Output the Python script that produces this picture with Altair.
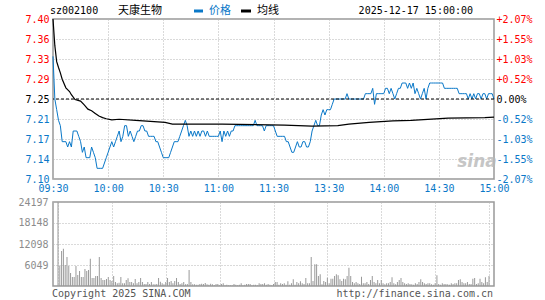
import json
import altair as alt
import pandas as pd

# ---------------- data ----------------
prev_close = 7.25
stock_code = "sz002100"
stock_name = "天康生物"
timestamp = "2025-12-17 15:00:00"

price = [
    7.33, 7.25, 7.23, 7.21, 7.20, 7.17, 7.17, 7.17, 7.16, 7.17,
    7.16, 7.19, 7.19, 7.19, 7.18, 7.17, 7.15, 7.16, 7.14, 7.14,
    7.14, 7.16, 7.15, 7.14, 7.12, 7.12, 7.12, 7.12, 7.13, 7.14,
    7.15, 7.16, 7.17, 7.16, 7.17, 7.18, 7.19, 7.17, 7.18, 7.20,
    7.20, 7.18, 7.19, 7.18, 7.17, 7.18, 7.19, 7.19, 7.20, 7.20,
    7.19, 7.19, 7.18, 7.18, 7.18, 7.18, 7.17, 7.17, 7.16, 7.15,
    7.14, 7.14, 7.14, 7.14, 7.15, 7.16, 7.17, 7.17, 7.17, 7.18,
    7.19, 7.20, 7.21, 7.20, 7.18, 7.19, 7.18, 7.19, 7.18, 7.19,
    7.18, 7.19, 7.19, 7.18, 7.19, 7.18, 7.18, 7.18, 7.18, 7.18,
    7.18, 7.19, 7.17, 7.19, 7.18, 7.19, 7.18, 7.19, 7.19, 7.20,
    7.20, 7.20, 7.20, 7.20, 7.20, 7.20, 7.20, 7.20, 7.20, 7.20,
    7.21, 7.20, 7.20, 7.20, 7.20, 7.19, 7.20, 7.20, 7.20, 7.20,
    7.20, 7.19, 7.18, 7.18, 7.18, 7.18, 7.18, 7.17, 7.17, 7.16,
    7.15, 7.15, 7.16, 7.17, 7.16, 7.16, 7.17, 7.17, 7.16, 7.16,
    7.17, 7.19, 7.20, 7.21, 7.20, 7.20, 7.22, 7.23, 7.22, 7.23,
    7.23, 7.23, 7.24, 7.25, 7.25, 7.25, 7.25, 7.25, 7.25, 7.25,
    7.26, 7.25, 7.25, 7.25, 7.25, 7.25, 7.25, 7.25, 7.25, 7.25,
    7.26, 7.26, 7.26, 7.26, 7.27, 7.24, 7.26, 7.26, 7.26, 7.26,
    7.26, 7.27, 7.27, 7.26, 7.27, 7.26, 7.25, 7.26, 7.27, 7.27,
    7.28, 7.28, 7.28, 7.27, 7.28, 7.27, 7.28, 7.26, 7.27, 7.26,
    7.25, 7.26, 7.27, 7.25, 7.27, 7.28, 7.28, 7.28, 7.28, 7.28,
    7.28, 7.28, 7.28, 7.27, 7.27, 7.27, 7.27, 7.27, 7.27, 7.27,
    7.27, 7.26, 7.26, 7.26, 7.26, 7.26, 7.25, 7.26, 7.25, 7.26,
    7.25, 7.26, 7.26, 7.25, 7.26, 7.26, 7.25, 7.26, 7.26, 7.26,
    7.25,
]

avg_minute = [0, 1, 2, 3, 4, 5, 7, 9, 10, 12, 15, 17, 19, 21, 23, 25, 27, 29, 32,
              36, 45, 61, 65, 92, 126, 141, 155, 161, 172, 185, 195, 215, 235, 240]
avg_price = [7.40, 7.35, 7.32, 7.309, 7.299, 7.287, 7.271, 7.264, 7.258, 7.249,
             7.246, 7.239, 7.231, 7.228, 7.223, 7.218, 7.215, 7.213, 7.211,
             7.212, 7.21, 7.206, 7.203, 7.203, 7.201, 7.199, 7.20, 7.203,
             7.206, 7.209, 7.21, 7.214, 7.215, 7.216]

volume = [
    24197, 5760, 10080, 10750, 6050, 8350, 5760, 3740, 2600, 2600,
    5760, 3170, 4320, 2600, 2600, 4900, 4320, 4600, 7870, 2300,
    2300, 2880, 2880, 8350, 2300, 1730, 1730, 2020, 2600, 1730,
    1440, 2880, 1150, 770, 960, 2600, 770, 770, 1730, 2210,
    1150, 1150, 770, 2020, 770, 1150, 2300, 1150, 580, 580,
    1150, 580, 1150, 480, 480, 580, 2300, 1250, 770, 480,
    1150, 2300, 1150, 1440, 770, 1440, 2300, 1150, 580, 770,
    1150, 480, 600, 4600, 1150, 480, 480, 380, 380, 580,
    670, 580, 860, 480, 380, 670, 480, 290, 580, 580,
    190, 580, 770, 190, 380, 190, 190, 190, 580, 380,
    190, 380, 770, 190, 380, 580, 580, 580, 190, 380,
    380, 190, 770, 580, 580, 770, 380, 580, 380, 190,
    580, 1150, 1150, 380, 770, 580, 770, 380, 1340, 380,
    770, 1920, 380, 1150, 770, 1340, 770, 580, 2300, 770,
    770, 8350, 1440, 6240, 6240, 2880, 3360, 480, 1440, 1150,
    2400, 770, 2100, 2100, 2880, 3360, 3070, 1920, 1440, 2110,
    1920, 2880, 5280, 2880, 1150, 770, 1150, 770, 580, 2690,
    770, 770, 1150, 580, 1730, 2880, 1150, 770, 1730, 770,
    1730, 770, 480, 770, 770, 1150, 2500, 770, 480, 1150,
    1730, 2300, 1150, 770, 580, 770, 580, 480, 380, 770,
    580, 1150, 1920, 1150, 770, 580, 770, 770, 480, 380,
    770, 3070, 580, 380, 770, 580, 580, 480, 380, 770,
    580, 770, 770, 1730, 1920, 1150, 770, 770, 1150, 580,
    580, 2110, 2300, 580, 770, 2110, 1150, 770, 2500, 1150,
    2870,
]

time_ticks = [0, 30, 60, 90, 120, 150, 180, 210, 240]
time_labels = ["09:30", "10:00", "10:30", "11:00", "11:30", "13:30", "14:00", "14:30", "15:00"]
price_ticks = [7.10, 7.1375, 7.175, 7.2125, 7.25, 7.2875, 7.325, 7.3625, 7.40]
price_labels = ["7.10", "7.14", "7.17", "7.21", "7.25", "7.29", "7.33", "7.36", "7.40"]
pct_labels = ["-2.07%", "-1.55%", "-1.03%", "-0.52%", "0.00%", "+0.52%", "+1.03%", "+1.55%", "+2.07%"]
vol_ticks = [6049, 12098, 18148, 24197]
vol_max = 24197
legend_labels = ["价格", "均线"]
footer_left = "Copyright 2025 SINA.COM"
footer_right = "http://finance.sina.com.cn"

# ---------------- style ----------------
BLUE = "#0a78c8"
RED = "#ff0000"
GRID = "#b4b4b4"
MONO = "DejaVu Sans Mono"
CJK = "Noto Sans CJK SC"
W, H_TOP, H_VOL = 441, 160, 84


def arr(xs):
    return "[" + ",".join(json.dumps(x) for x in xs) + "]"


time_expr = f"{arr(time_labels)}[indexof({arr(time_ticks)}, datum.value)]"
price_expr = f"{arr(price_labels)}[indexof({arr(price_ticks)}, datum.value)]"
pct_expr = f"{arr(pct_labels)}[indexof({arr(price_ticks)}, datum.value)]"
color_expr = (f"datum.value > {prev_close} ? '{RED}' : "
              f"(datum.value < {prev_close} ? '{BLUE}' : '#000000')")

price_df = pd.DataFrame({"minute": list(range(len(price))), "p": price})
avg_df = pd.DataFrame({"minute": avg_minute, "p": avg_price})
vol_df = pd.DataFrame({"minute": list(range(len(volume))), "v": volume})
ref_df = pd.DataFrame({"p": [prev_close]})

x_scale = alt.Scale(domain=[0, 240], nice=False, zero=False)
y_scale = alt.Scale(domain=[price_ticks[0], price_ticks[-1]], nice=False, zero=False)

x_top = alt.X(
    "minute:Q", scale=x_scale,
    axis=alt.Axis(values=time_ticks, labelExpr=time_expr, grid=True, gridColor=GRID,
                  gridDash=[1, 2], domain=False, ticks=False, labelColor=BLUE,
                  labelFont=MONO, labelFontSize=10, labelPadding=4, labelFlush=False,
                  labelOverlap=False, title=None),
)
x_plain = alt.X("minute:Q", scale=x_scale, axis=None)

left_axis = alt.Axis(values=price_ticks, labelExpr=price_expr, grid=True, gridColor=GRID,
                     gridDash=[1, 2], domain=False, ticks=False,
                     labelColor={"expr": color_expr}, labelFont=MONO, labelFontSize=10,
                     labelPadding=4, labelFlush=False, labelOverlap=False, title=None)
right_axis = alt.Axis(orient="right", values=price_ticks, labelExpr=pct_expr, grid=False,
                      domain=False, ticks=False, labelColor={"expr": color_expr},
                      labelFont=MONO, labelFontSize=10, labelPadding=2, labelFlush=False,
                      labelOverlap=False, title=None)

price_line = alt.Chart(price_df).mark_line(color=BLUE, strokeWidth=1).encode(
    x=x_top, y=alt.Y("p:Q", scale=y_scale, axis=left_axis))
avg_line = alt.Chart(avg_df).mark_line(color="#000000", strokeWidth=1.2).encode(
    x=x_top, y=alt.Y("p:Q", scale=y_scale, axis=None))
ref_line = alt.Chart(ref_df).mark_rule(color="#000000", strokeDash=[3, 2], strokeWidth=1).encode(
    y=alt.Y("p:Q", scale=y_scale, axis=right_axis))


def text(t, x, y, align="left", color="#000000", font=MONO, size=10, **kw):
    return alt.Chart(pd.DataFrame({"t": [t]})).mark_text(
        align=align, baseline="middle", color=color, font=font, fontSize=size, **kw
    ).encode(text="t:N", x=alt.value(x), y=alt.value(y))


def dash(x1, x2, y, color):
    return alt.Chart(pd.DataFrame({"t": [0]})).mark_rule(color=color, strokeWidth=3).encode(
        x=alt.value(x1), x2=alt.value(x2), y=alt.value(y))


header = [
    text(stock_code, -3, -8),
    text(stock_name, 65, -8, font=CJK, size=11),
    dash(141, 150, -8, BLUE),
    text(legend_labels[0], 156, -8, color=BLUE, font=CJK, size=11),
    dash(188, 198, -8, "#000000"),
    text(legend_labels[1], 204, -8, font=CJK, size=11),
    text(timestamp, 420, -8, align="right"),
    text("sina", 424, 143, align="center", color="#b8b8b8", font="DejaVu Sans",
         size=17, fontStyle="italic", fontWeight="bold", opacity=0.8),
]

top = alt.layer(price_line, avg_line, ref_line, *header).resolve_axis(
    y="independent").properties(width=W, height=H_TOP)

x_vol = alt.X(
    "minute:Q", scale=x_scale,
    axis=alt.Axis(values=time_ticks, labels=False, grid=True, gridColor=GRID,
                  gridDash=[1, 2], domain=False, ticks=False, title=None),
)
bars = alt.Chart(vol_df).mark_bar(color="#999999", width=1).encode(
    x=x_vol,
    y=alt.Y("v:Q", scale=alt.Scale(domain=[0, vol_max], nice=False),
            axis=alt.Axis(values=vol_ticks, grid=True, gridColor=GRID, gridDash=[1, 2],
                          domain=False, ticks=False, labelColor="#8c8c8c",
                          labelFont=MONO, labelFontSize=10, labelPadding=5,
                          labelFlush=False, labelOverlap=False, format="d", title=None)),
)
bottom = alt.layer(
    bars,
    text(footer_left, -1, 92, color="#555555"),
    text(footer_right, 440, 92, align="right", color="#555555"),
).properties(width=W, height=H_VOL)

chart = alt.vconcat(top, bottom, spacing=23, bounds="flush").properties(
    padding={"left": 17, "top": 4, "right": 0, "bottom": 0},
    background="#ffffff",
).configure_view(stroke="#999999", strokeWidth=1.5)

chart.save("out.html", embed_options={"renderer": "svg", "actions": False})
